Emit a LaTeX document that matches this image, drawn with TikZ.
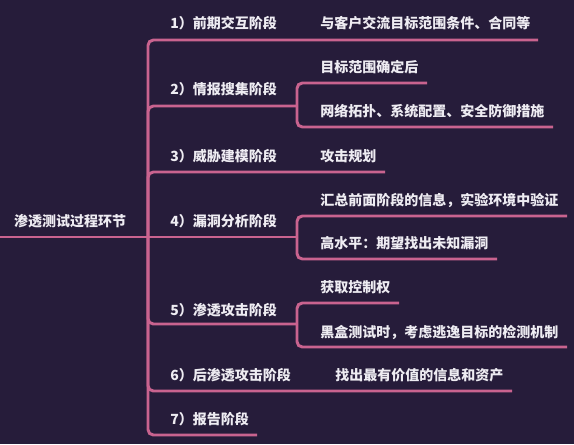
\documentclass[tikz,border=0pt]{standalone}
\usepackage{fontspec}
\setmainfont{Noto Sans CJK SC}
\usetikzlibrary{positioning}
\definecolor{mybg}{RGB}{38,28,58}
\definecolor{mypink}{RGB}{201,99,143}
\definecolor{mytext}{RGB}{238,236,242}

\begin{document}
\begin{tikzpicture}[x=0.75pt, y=-0.75pt,
  font=\fontsize{10.5pt}{12pt}\selectfont\bfseries,
  lbl/.style={text=mytext, anchor=west, inner sep=0pt},
  branch/.style={draw=mypink, line width=2.2pt, rounded corners=4pt}]

\fill[mybg] (0,0) rectangle (574,444);
\useasboundingbox (0,0) rectangle (574,444);

% Root
\node[lbl, anchor=center] (root) at (70,221) {渗透测试过程环节};
\coordinate (rstart) at (0,237);
\coordinate (trunk) at (148,237);
\draw[branch] (rstart) -- (trunk);

% Stage 1
\node[lbl] (s1) at (170,23) {1）前期交互阶段};
\node[lbl] (c1) at (320,23) {与客户交流目标范围条件、合同等};
\coordinate (e1) at (538,40);
\draw[branch] (trunk) |- (e1);

% Stage 2
\node[lbl] (s2) at (170,89) {2）情报搜集阶段};
\node[lbl] (c2a) at (320,67) {目标范围确定后};
\node[lbl] (c2b) at (320,111) {网络拓扑、系统配置、安全防御措施};
\coordinate (j2) at (297,106);
\coordinate (e2a) at (427,83);
\coordinate (e2b) at (553,127);
\draw[branch] (trunk) |- (j2);
\draw[branch] (j2) |- (e2a);
\draw[branch] (j2) |- (e2b);

% Stage 3
\node[lbl] (s3) at (170,156) {3）威胁建模阶段};
\node[lbl] (c3) at (320,156) {攻击规划};
\coordinate (e3) at (385,172);
\draw[branch] (trunk) |- (e3);

% Stage 4
\node[lbl] (s4) at (170,221) {4）漏洞分析阶段};
\node[lbl] (c4a) at (320,200) {汇总前面阶段的信息，实验环境中验证};
\node[lbl] (c4b) at (320,243) {高水平：期望找出未知漏洞};
\coordinate (j4) at (297,237);
\coordinate (e4a) at (567,216);
\coordinate (e4b) at (497,259);
\draw[branch] (trunk) -- (j4);
\draw[branch] (j4) |- (e4a);
\draw[branch] (j4) |- (e4b);

% Stage 5
\node[lbl] (s5) at (170,310) {5）渗透攻击阶段};
\node[lbl] (c5a) at (320,287) {获取控制权};
\node[lbl] (c5b) at (320,332) {黑盒测试时，考虑逃逸目标的检测机制};
\coordinate (j5) at (297,324);
\coordinate (e5a) at (399,303);
\coordinate (e5b) at (567,347);
\draw[branch] (trunk) |- (j5);
\draw[branch] (j5) |- (e5a);
\draw[branch] (j5) |- (e5b);

% Stage 6
\node[lbl] (s6) at (170,375) {6）后渗透攻击阶段};
\node[lbl] (c6) at (335,375) {找出最有价值的信息和资产};
\coordinate (e6) at (512,391);
\draw[branch] (trunk) |- (e6);

% Stage 7
\node[lbl] (s7) at (170,419) {7）报告阶段};
\coordinate (e7) at (257,435);
\draw[branch] (trunk) |- (e7);

\end{tikzpicture}
\end{document}
